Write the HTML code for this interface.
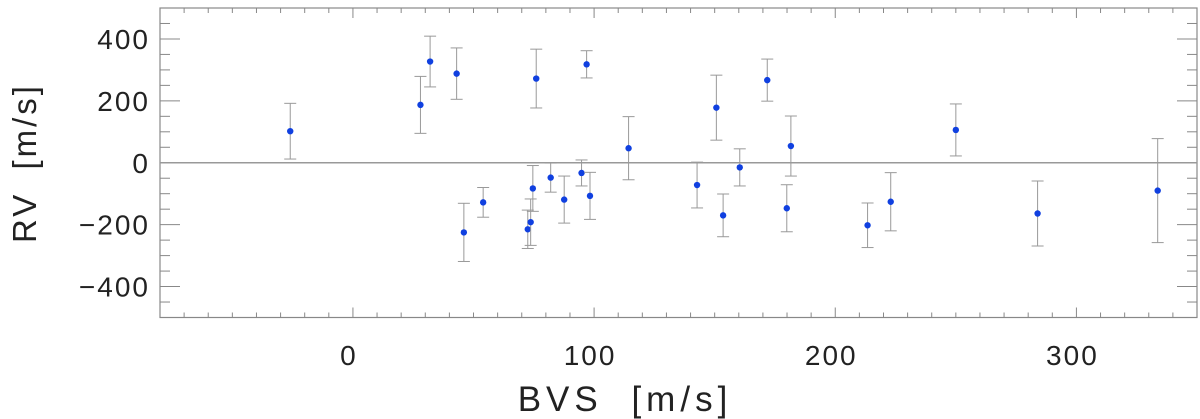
<!DOCTYPE html>
<html><head><meta charset="utf-8"><style>
html,body{margin:0;padding:0;background:#fff;}
svg{display:block;font-family:"Liberation Sans",sans-serif;}
</style></head><body>
<svg id="chart" width="1200" height="419" viewBox="0 0 1200 419">
<g id="axes"></g><g id="marks"></g>
</svg>
<script>
const bvs = [-26,28,32,43,46,54,72.5,73.7,74.6,76,82,87.6,94.8,96.9,98.3,114.3,142.7,150.7,153.5,160.4,171.8,179.9,181.6,213.4,223,250,283.9,333.7];
const rv = [102,187,327,288,-225,-128,-215,-192,-83,272,-48,-119,-33,318,-107,47,-72,178,-170,-15,267,-147,54,-202,-126,106,-164,-90];
const rvErr = [90,92,82,83,94,48,62,75,74,95,47,76,42,44,76,102,74,105,69,60,68,76,97,72,94,84,105,168];
const xTicks = [0,100,200,300];
const yTicks = [-400,-200,0,200,400];
const xDomain = [-80,350], yDomain = [-500,500];
const L=160,R=1197,T=8,B=317.5;
const sx=v=>L+(v-xDomain[0])/(xDomain[1]-xDomain[0])*(R-L);
const sy=v=>B-(v-yDomain[0])/(yDomain[1]-yDomain[0])*(B-T);
const NS="http://www.w3.org/2000/svg";
const axes=document.getElementById('axes'), marks=document.getElementById('marks');
function mk(parent,tag,attrs){const e=document.createElementNS(NS,tag);for(const k in attrs)e.setAttribute(k,attrs[k]);parent.appendChild(e);return e;}
const frame=mk(axes,'rect',{x:L,y:T,width:R-L,height:B-T,fill:'none',stroke:'#888','stroke-width':1.2});


for(let v=-80;v<=350;v+=10){const x=sx(v);const maj=v%100===0;const len=maj?10:5;
 mk(axes,'line',{x1:x,y1:B,x2:x,y2:B-len,stroke:'#888','stroke-width':1});
 mk(axes,'line',{x1:x,y1:T,x2:x,y2:T+len,stroke:'#888','stroke-width':1});}
for(let v=-500;v<=500;v+=50){const y=sy(v);const maj=v%200===0;const len=maj?20:10;
 mk(axes,'line',{x1:L,y1:y,x2:L+len,y2:y,stroke:'#888','stroke-width':1});
 mk(axes,'line',{x1:R,y1:y,x2:R-len,y2:y,stroke:'#888','stroke-width':1});}
xTicks.forEach(v=>{const t=mk(axes,'text',{x:sx(v)-4,y:365,'text-anchor':'middle','font-size':28,'letter-spacing':2,fill:'#222'});t.textContent=v;
 
 });
yTicks.forEach(v=>{const t=mk(axes,'text',{x:150,y:sy(v)+10,'text-anchor':'end','font-size':28,'letter-spacing':2,fill:'#222'});t.textContent=v<0?'\u2212'+Math.abs(v):v;
 
 });
const xt=mk(axes,'text',{x:625,y:411,'text-anchor':'middle','font-size':35,'letter-spacing':5,'word-spacing':14,fill:'#222'});xt.textContent='BVS [m/s]';


const yt=mk(axes,'text',{x:0,y:0,'text-anchor':'middle','font-size':33,'letter-spacing':3,'word-spacing':10,fill:'#222',transform:'translate(36,163) rotate(-90)'});yt.textContent='RV [m/s]';


const zl=mk(axes,'line',{x1:L,y1:sy(0),x2:R,y2:sy(0),stroke:'#999','stroke-width':1.6});


bvs.forEach((b,i)=>{const x=sx(b),y1=sy(rv[i]+rvErr[i]),y2=sy(rv[i]-rvErr[i]);
 const g=mk(marks,'g',{});
 
 
 mk(g,'line',{x1:x,y1:y1,x2:x,y2:y2,stroke:'#999','stroke-width':1});
 mk(g,'line',{x1:x-6,y1:y1,x2:x+6,y2:y1,stroke:'#999','stroke-width':1});
 mk(g,'line',{x1:x-6,y1:y2,x2:x+6,y2:y2,stroke:'#999','stroke-width':1});
 mk(g,'circle',{cx:x,cy:sy(rv[i]),r:3.2,fill:'#1040e0'});});
</script>
</body></html>
